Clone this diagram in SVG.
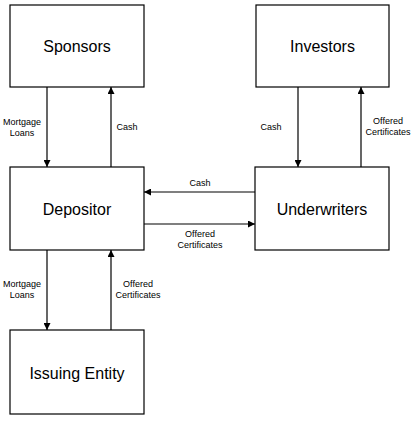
<svg xmlns="http://www.w3.org/2000/svg" width="416" height="421" viewBox="0 0 416 421">
<style>
.box{fill:#fff;stroke:#000;stroke-width:1.2}
.t{font-family:"Liberation Sans",Arial,sans-serif;font-size:16px;text-anchor:middle;fill:#000}
.l{font-family:"Liberation Sans",Arial,sans-serif;font-size:9px;text-anchor:middle;fill:#000}
.c{stroke:#000;stroke-width:1.2;fill:none;marker-end:url(#ah)}
</style>
<defs>
<marker id="ah" viewBox="0 0 10 10" refX="10" refY="5" markerWidth="7" markerHeight="7" markerUnits="userSpaceOnUse" orient="auto">
<path d="M0,0 L10,5 L0,10 z" fill="#000"/>
</marker>
</defs>
<rect width="416" height="421" fill="#fff"/>
<g id="sponsors"><rect class="box" x="10" y="5" width="134" height="82"/><text class="t" x="77" y="52">Sponsors</text></g>
<g id="investors"><rect class="box" x="256" y="5" width="133" height="82"/><text class="t" x="322.5" y="52">Investors</text></g>
<g id="depositor"><rect class="box" x="10" y="167" width="134" height="83"/><text class="t" x="77" y="215">Depositor</text></g>
<g id="underwriters"><rect class="box" x="255" y="167" width="134" height="83"/><text class="t" x="322" y="215">Underwriters</text></g>
<g id="issuing-entity"><rect class="box" x="10" y="330" width="134" height="84"/><text class="t" x="77" y="379">Issuing Entity</text></g>
<g id="connectors">
<line class="c" x1="47" y1="87" x2="47" y2="167"/>
<line class="c" x1="111" y1="167" x2="111" y2="87"/>
<line class="c" x1="298" y1="87" x2="298" y2="167"/>
<line class="c" x1="361" y1="167" x2="361" y2="87"/>
<line class="c" x1="255" y1="192" x2="144" y2="192"/>
<line class="c" x1="144" y1="224" x2="255" y2="224"/>
<line class="c" x1="47" y1="250" x2="47" y2="330"/>
<line class="c" x1="111" y1="330" x2="111" y2="250"/>
<text class="l" x="22" y="125">Mortgage</text><text class="l" x="22" y="136">Loans</text>
<text class="l" x="127" y="130">Cash</text>
<text class="l" x="271" y="130">Cash</text>
<text class="l" x="388" y="124">Offered</text><text class="l" x="388" y="135">Certificates</text>
<text class="l" x="200" y="186">Cash</text>
<text class="l" x="200" y="237">Offered</text><text class="l" x="200" y="248">Certificates</text>
<text class="l" x="22" y="287">Mortgage</text><text class="l" x="22" y="298">Loans</text>
<text class="l" x="138" y="287">Offered</text><text class="l" x="138" y="298">Certificates</text>
</g>
</svg>
